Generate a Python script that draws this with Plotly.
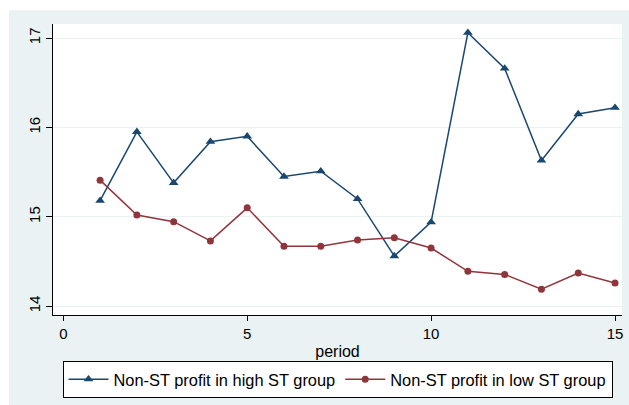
import plotly.graph_objects as go

# Period index and group averages
period = [1, 2, 3, 4, 5, 6, 7, 8, 9, 10, 11, 12, 13, 14, 15]
high_st = [15.18, 15.95, 15.38, 15.84, 15.90, 15.45, 15.51, 15.20, 14.56, 14.94,
           17.06, 16.66, 15.63, 16.15, 16.22]
low_st = [15.41, 15.02, 14.945, 14.73, 15.10, 14.67, 14.67, 14.74, 14.765, 14.65,
          14.39, 14.355, 14.19, 14.37, 14.26]

x_ticks = [0, 5, 10, 15]
y_ticks = [14, 15, 16, 17]

NAVY = "#1A476F"
MAROON = "#90353B"
REGION = "#EAF2F3"
FONT = "Arial, Liberation Sans, sans-serif"

W, H = 629, 405
ML, MR, MT, MB = 53, 7, 24, 84
pw, ph = W - ML - MR, H - MT - MB

fig = go.Figure()
fig.add_trace(go.Scatter(
    x=period, y=high_st, mode="lines+markers",
    name="Non-ST profit in high ST group",
    line=dict(color=NAVY, width=1.5),
    marker=dict(symbol="triangle-up", size=8.5, color=NAVY),
))
fig.add_trace(go.Scatter(
    x=period, y=low_st, mode="lines+markers",
    name="Non-ST profit in low ST group",
    line=dict(color=MAROON, width=1.5),
    marker=dict(symbol="circle", size=7, color=MAROON),
))

# white strips framing the graph region at the top and left edges
fig.add_shape(type="rect", xref="paper", yref="paper", layer="above",
              x0=-1.0, x1=2.0, y0=(ph + MT - 10) / ph, y1=2.0,
              line=dict(width=0), fillcolor="white")
fig.add_shape(type="rect", xref="paper", yref="paper", layer="above",
              x0=-1.0, x1=(9 - ML) / pw, y0=-1.0, y1=2.0,
              line=dict(width=0), fillcolor="white")

fig.update_layout(
    width=W, height=H,
    margin=dict(l=ML, r=MR, t=MT, b=MB),
    paper_bgcolor=REGION,
    plot_bgcolor="white",
    font=dict(family=FONT, size=15, color="black"),
    showlegend=True,
    legend=dict(
        orientation="h", x=0.5, xanchor="center",
        y=(ph - (368 - MT)) / ph, yanchor="top",
        bgcolor="white", bordercolor="black", borderwidth=1,
        font=dict(family=FONT, size=16.4, color="black"),
        itemwidth=40,
    ),
)

fig.update_xaxes(
    range=[-0.28, 15.19],
    tickvals=x_ticks, ticktext=[str(v) for v in x_ticks],
    showgrid=False, zeroline=False,
    showline=True, linecolor="black", linewidth=1.2,
    ticks="outside", ticklen=5, tickcolor="black", tickwidth=1.2,
    tickfont=dict(size=15),
    title=dict(text="period", font=dict(size=16), standoff=4),
)
fig.update_yaxes(
    range=[13.901, 17.157],
    tickvals=y_ticks, ticktext=[str(v) for v in y_ticks],
    showgrid=True, gridcolor=REGION, gridwidth=1,
    zeroline=False,
    showline=True, linecolor="black", linewidth=1.2,
    ticks="outside", ticklen=6, tickcolor="black", tickwidth=1.2,
    tickangle=-90,
    tickfont=dict(size=15),
)

fig.write_html("out.html")
